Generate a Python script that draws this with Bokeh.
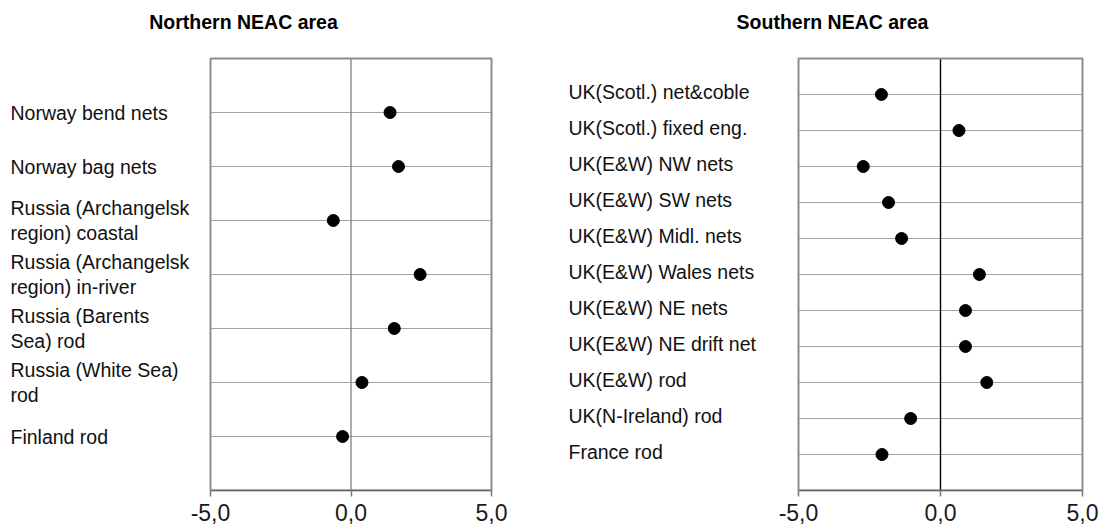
from bokeh.plotting import figure
from bokeh.layouts import row
from bokeh.models import Range1d, FixedTicker, ColumnDataSource, BoxAnnotation
from bokeh.core.properties import value
from bokeh.embed import file_html
from bokeh.resources import INLINE

# ---- data ----
north_title = "Northern NEAC area"
north_labels = [
    "Norway bend nets",
    "Norway bag nets",
    "Russia (Archangelsk\nregion) coastal",
    "Russia (Archangelsk\nregion) in-river",
    "Russia (Barents\nSea) rod",
    "Russia (White Sea)\nrod",
    "Finland rod",
]
north_values = [1.39, 1.69, -0.63, 2.46, 1.54, 0.39, -0.30]

south_title = "Southern NEAC area"
south_labels = [
    "UK(Scotl.) net&coble",
    "UK(Scotl.) fixed eng.",
    "UK(E&W) NW nets",
    "UK(E&W) SW nets",
    "UK(E&W) Midl. nets",
    "UK(E&W) Wales nets",
    "UK(E&W) NE nets",
    "UK(E&W) NE drift net",
    "UK(E&W) rod",
    "UK(N-Ireland) rod",
    "France rod",
]
south_values = [-2.08, 0.65, -2.72, -1.83, -1.37, 1.37, 0.88, 0.88, 1.63, -1.05, -2.06]

x_ticks = [-5, 0, 5]
x_tick_labels = ["-5,0", "0,0", "5,0"]
XMIN, XMAX = -5, 5

FONT = "Liberation Sans"
HEIGHT = 531
BOX_TOP = 58      # page y of the plot box top
BOX_BOTTOM = 490  # page y of the axis


def panel(title, labels, values, fig_x0, fig_width, box_left, box_right,
          label_x, title_cx, zero_color, label_dy):
    n = len(labels)
    pos = list(range(1, n + 1))
    ppu = (box_right - box_left) / (XMAX - XMIN)          # px per x unit
    frame_right = box_right + 2
    x_start = XMIN - (box_left - fig_x0) / ppu
    x_end = XMAX + (frame_right - box_right) / ppu
    upp_y = (n + 1) / (BOX_BOTTOM - BOX_TOP)               # y units per px
    y_top = -BOX_TOP * upp_y

    p = figure(width=fig_width, height=HEIGHT, output_backend="svg",
               toolbar_location=None, y_axis_location=None,
               x_range=Range1d(x_start, x_end), y_range=Range1d(n + 1, y_top),
               min_border_left=0, min_border_right=fig_x0 + fig_width - frame_right,
               min_border_top=0, min_border_bottom=HEIGHT - BOX_BOTTOM)
    p.background_fill_color = "white"
    p.border_fill_color = "white"
    p.outline_line_color = None
    p.xgrid.visible = False
    for g in p.ygrid:
        g.visible = False

    ax = p.xaxis[0]
    ax.bounds = (XMIN, XMAX)
    ax.ticker = FixedTicker(ticks=x_ticks)
    ax.major_label_overrides = {t: s for t, s in zip(x_ticks, x_tick_labels)}
    ax.axis_line_color = "#3c3c3c"
    ax.axis_line_width = 1.5
    ax.major_tick_line_color = "#777777"
    ax.major_tick_line_width = 1.5
    ax.major_tick_out = 6
    ax.major_tick_in = 0
    ax.minor_tick_line_color = None
    ax.major_label_standoff = 7
    ax.major_label_text_font = FONT
    ax.major_label_text_font_size = "23px"
    ax.major_label_text_color = "#1a1a1a"

    # plot box
    p.add_layout(BoxAnnotation(left=XMIN, right=XMAX, top=0, bottom=n + 1,
                               fill_alpha=0, line_color="#8c8c8c",
                               line_alpha=1.0, line_width=2))

    src = ColumnDataSource(dict(label=labels, value=values, pos=pos,
                                x0=[XMIN] * n, x1=[XMAX] * n,
                                ly=[v - label_dy * upp_y for v in pos]))
    # dotted row lines
    p.segment(x0="x0", y0="pos", x1="x1", y1="pos", source=src,
              line_color="#444444", line_dash="1 1", line_width=1)
    # zero line
    p.segment(x0=[0], y0=[0], x1=[0], y1=[n + 1], line_color=zero_color,
              line_width=1.4)

    p.scatter("value", "pos", source=src, size=12, color="black")

    p.text(x="x0", y="ly", text="label", source=src,
           x_offset=label_x - box_left,
           text_font=value(FONT), text_font_size="19.5px",
           text_color="#111111", text_align="left",
           text_baseline="middle", text_line_height=1.15)

    p.text(x=[XMIN + (title_cx - box_left) / ppu], y=[y_top + 21 * upp_y],
           text=[title], text_font=value(FONT), text_font_size="19.5px",
           text_font_style="bold", text_align="center",
           text_baseline="middle", text_color="#000000")
    return p


p1 = panel(north_title, north_labels, north_values,
           fig_x0=0, fig_width=540, box_left=210, box_right=491,
           label_x=10, title_cx=243, zero_color="#888888", label_dy=0)
p2 = panel(south_title, south_labels, south_values,
           fig_x0=540, fig_width=566, box_left=798, box_right=1082,
           label_x=568, title_cx=832, zero_color="#000000", label_dy=3)

layout = row(p1, p2)
open("out.html", "w").write(file_html(layout, INLINE))
